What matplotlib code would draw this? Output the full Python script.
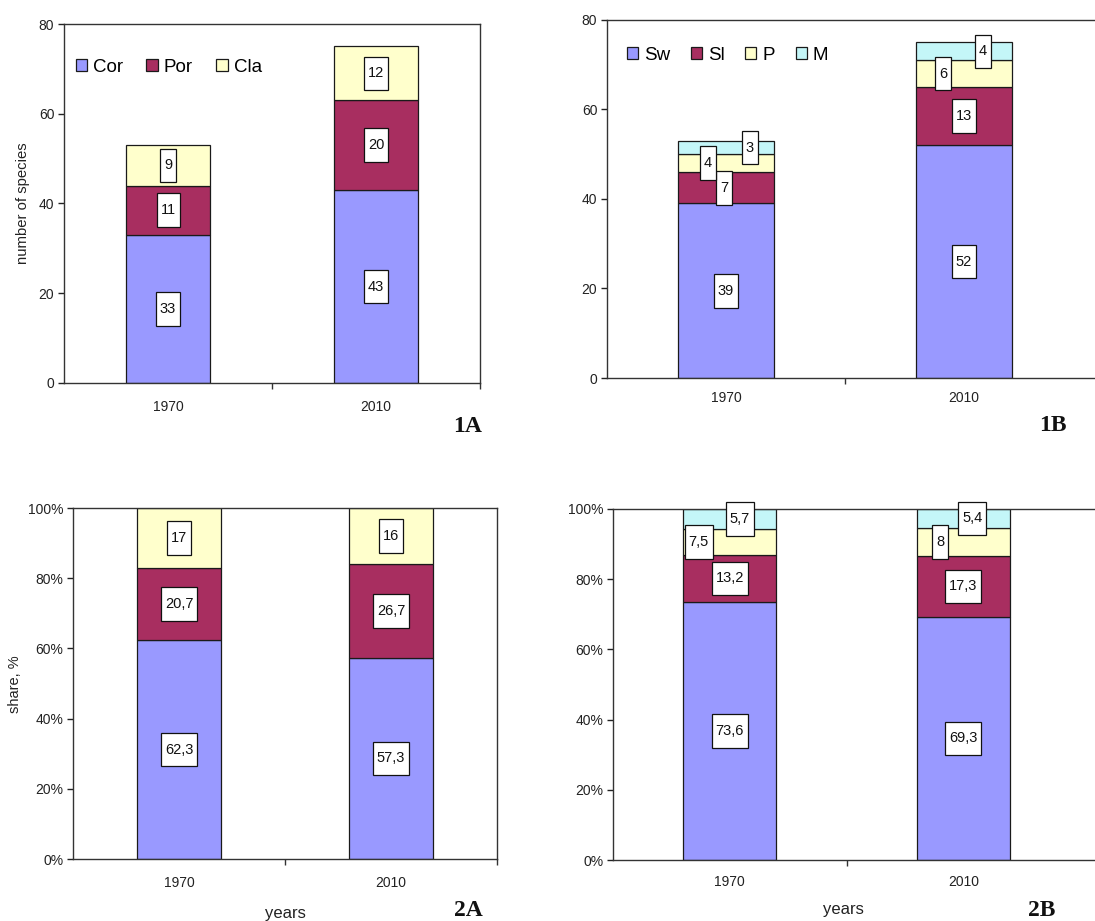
import matplotlib
matplotlib.use('Agg')
import matplotlib.pyplot as plt
from matplotlib.path import Path
import numpy as np

plt.rcParams['font.family'] = ['Liberation Sans', 'DejaVu Sans']

years = ['1970', '2010']

# Panel 1A: number of species by group
names_a = ['Cor', 'Por', 'Cla']
cor_1a = [33, 43]
por_1a = [11, 20]
cla_1a = [9, 12]

# Panel 1B: number of species by group
names_b = ['Sw', 'Sl', 'P', 'M']
sw_1b = [39, 52]
sl_1b = [7, 13]
p_1b = [4, 6]
m_1b = [3, 4]

# Panel 2A: share, %
cor_2a = [62.3, 57.3]
por_2a = [20.7, 26.7]
cla_2a = [17, 16]

# Panel 2B: share, %
sw_2b = [73.6, 69.3]
sl_2b = [13.2, 17.3]
p_2b = [7.5, 8]
m_2b = [5.7, 5.4]

C_BLUE = '#9999FF'
C_MAROON = '#A82E60'
C_YELLOW = '#FFFFCC'
C_CYAN = '#C4F6F8'
colors4 = [C_BLUE, C_MAROON, C_YELLOW, C_CYAN]

W, H = 1095, 921
fig = plt.figure(figsize=(W / 100, H / 100), dpi=100)


def axes_px(left, top, right, bottom):
    return fig.add_axes([left / W, 1 - bottom / H, (right - left) / W, (bottom - top) / H])


def label_box(x0, y0, width, height, mutation_size):
    px = 0.27 * mutation_size
    h = 2.3 * mutation_size
    cy = y0 + height / 2
    xa, xb = x0 - px, x0 + width + px
    ya, yb = cy - h / 2, cy + h / 2
    return Path([(xa, ya), (xb, ya), (xb, yb), (xa, yb), (xa, ya)], closed=True)


def fmt(v):
    s = f'{v:g}'
    return s.replace('.', ',')


def stacked(ax, series, names, offsets_px=None):
    x = np.arange(len(years))
    bottom = np.zeros(len(years))
    for k, (vals, name) in enumerate(zip(series, names)):
        vals = np.asarray(vals, dtype=float)
        ax.bar(x, vals, width=0.4, bottom=bottom, color=colors4[k],
               edgecolor='#1a1a1a', linewidth=0.9, label=name, zorder=2)
        for i in range(len(years)):
            dx = 0.0
            if offsets_px is not None:
                dx = offsets_px[k][i] * 0.72
            ax.annotate(fmt(vals[i]), xy=(x[i], bottom[i] + vals[i] / 2),
                        xytext=(dx, 0), textcoords='offset points',
                        ha='center', va='center', fontsize=10.5, color='#111111',
                        zorder=5,
                        bbox=dict(boxstyle=label_box, fc='white', ec='#111111', lw=0.9))
        bottom += vals


def style(ax, ymax, ystep, pct, xpad, xright, boundary_ticks):
    ax.set_xlim(-0.5, xright)
    ax.set_ylim(0, ymax)
    ax.set_yticks(np.arange(0, ymax + 1, ystep))
    if pct:
        ax.yaxis.set_major_formatter(lambda v, p: f'{int(v)}%')
    ax.set_xticks(range(len(years)))
    ax.set_xticklabels(years)
    ax.set_xticks(boundary_ticks, minor=True)
    ax.tick_params(axis='x', which='major', length=0, pad=xpad, labelsize=10, colors='#222222')
    ax.tick_params(axis='x', which='minor', length=4, width=1, direction='out', color='#333333')
    ax.tick_params(axis='y', length=4, width=1, direction='out', pad=3, labelsize=10,
                   colors='#222222')
    for s in ax.spines.values():
        s.set_color('#333333')
        s.set_linewidth(1.0)


# ---------- 1A ----------
ax1a = axes_px(64, 24, 480, 383)
stacked(ax1a, [cor_1a, por_1a, cla_1a], names_a)
style(ax1a, 80, 20, False, 12, 1.5, [0.5, 1.5])
ax1a.set_ylabel('number of species', fontsize=10.7, color='#222222')
ax1a.yaxis.label.set_va('center')
ax1a.yaxis.set_label_coords(-0.099, 0.5)
ax1a.legend(loc='center left', bbox_to_anchor=(0.028, 0.88), ncol=3, frameon=False,
            fontsize=13.5, handlelength=0.6, handleheight=0.6, handletextpad=0.32,
            columnspacing=1.25, borderpad=0, borderaxespad=0)

# ---------- 1B ----------
ax1b = axes_px(607, 20, 1096, 378)
stacked(ax1b, [sw_1b, sl_1b, p_1b, m_1b], names_b,
        offsets_px=[[0, 0], [-2, 0], [-18, -21], [24, 19]])
style(ax1b, 80, 20, False, 9, 1.555, [0.5])
ax1b.spines['right'].set_visible(False)
ax1b.legend(loc='center left', bbox_to_anchor=(0.040, 0.902), ncol=4, frameon=False,
            fontsize=13.5, handlelength=0.6, handleheight=0.6, handletextpad=0.32,
            columnspacing=1.1, borderpad=0, borderaxespad=0)

# ---------- 2A ----------
ax2a = axes_px(73, 508, 497, 859)
stacked(ax2a, [cor_2a, por_2a, cla_2a], names_a)
style(ax2a, 100, 20, True, 12, 1.5, [0.5, 1.5])
ax2a.set_ylabel('share, %', fontsize=10.5, color='#222222')
ax2a.yaxis.label.set_va('center')
ax2a.yaxis.set_label_coords(-0.137, 0.497)
ax2a.set_xlabel('years', fontsize=12, color='#222222')
ax2a.xaxis.label.set_va('center')
ax2a.xaxis.set_label_coords(0.5, -0.155)

# ---------- 2B ----------
ax2b = axes_px(613, 509, 1096, 860)
stacked(ax2b, [sw_2b, sl_2b, p_2b, m_2b], names_b,
        offsets_px=[[0, 0], [0, 0], [-31, -23], [10, 9]])
style(ax2b, 100, 20, True, 11, 1.568, [0.5])
ax2b.spines['right'].set_visible(False)
ax2b.set_xlabel('years', fontsize=12, color='#222222')
ax2b.xaxis.label.set_va('center')
ax2b.xaxis.set_label_coords((843 - 613) / 483, -0.142)

# ---------- panel labels ----------
for txt, xp, yp in [('1A', 468, 426), ('1B', 1053, 425), ('2A', 468, 910), ('2B', 1042, 910)]:
    fig.text(xp / W, 1 - yp / H, txt, fontsize=17, fontweight='bold',
             family=['Liberation Serif', 'DejaVu Serif'], ha='center', va='center', color='#111111')

fig.savefig('out.png', dpi=100)
